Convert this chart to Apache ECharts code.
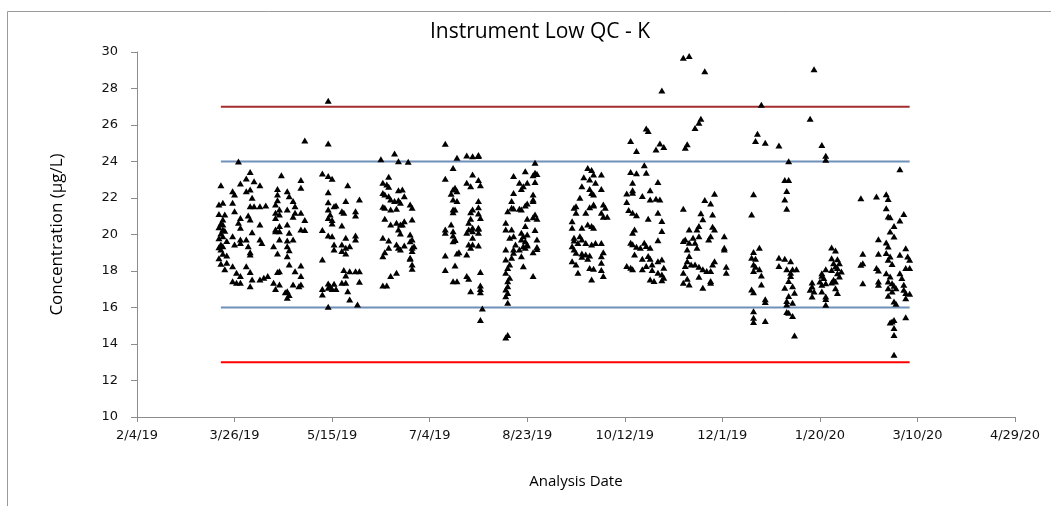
<!DOCTYPE html>
<html>
<head>
<meta charset="utf-8">
<title>Instrument Low QC - K</title>
<script src="https://cdn.jsdelivr.net/npm/echarts@6/dist/echarts.min.js"></script>
<style>
  html, body { margin: 0; padding: 0; background: #ffffff; }
  #chart { width: 1051px; height: 506px; }
</style>
</head>
<body>
<div id="chart"></div>
<script>
// QC results, one entry per analysis date: [date, [concentrations in µg/L]]
const runsMarApr = [
  ['2019-03-18', [21.64, 21.13, 20.4, 19.8, 19.3, 18.7]],
  ['2019-03-19', [22.70, 20.6, 20.05, 19.45, 19.18, 18.4]],
  ['2019-03-20', [21.74, 20.82, 20.55, 20.27, 19.91, 19.36, 18.95]],
  ['2019-03-21', [21.1, 20.2, 18.1]],
  ['2019-03-22', [19.65, 18.85, 18.45]],
  ['2019-03-25', [22.37, 21.74, 19.91, 18.26, 17.44]],
  ['2019-03-26', [22.19, 21.28, 19.45]],
  ['2019-03-27', [17.90, 17.35]],
  ['2019-03-28', [24.0, 20.64]],
  ['2019-03-29', [22.79, 20.91, 20.37, 19.73, 19.54, 17.72, 17.35]],
  ['2019-04-01', [23.07, 22.37, 19.73, 18.26]],
  ['2019-04-02', [21.04, 19.36]],
  ['2019-04-03', [23.42, 22.47, 21.55, 20.82, 19.03, 18.90, 17.94, 17.17]],
  ['2019-04-04', [22.01, 20.13, 17.53]],
  ['2019-04-05', [22.92, 21.55]],
  ['2019-04-08', [22.70, 21.55, 20.55, 19.73, 17.53]],
  ['2019-04-09', [19.54]],
  ['2019-04-10', [17.63]],
  ['2019-04-11', [21.59]],
  ['2019-04-12', [17.72]],
  ['2019-04-15', [19.36, 17.35]],
  ['2019-04-16', [21.64, 21.19, 20.91, 20.27, 20.18, 17.02]],
  ['2019-04-17', [22.50, 22.19, 21.88, 18.96, 17.94]],
  ['2019-04-18', [21.37, 21.10, 20.46, 20.18, 19.73, 17.99, 17.26]],
  ['2019-04-19', [23.25]],
  ['2019-04-21', [16.84]],
  ['2019-04-22', [22.37, 21.37, 20.55, 19.67, 19.36, 18.81, 16.89, 16.53]],
  ['2019-04-23', [22.10, 20.09, 19.14, 18.36, 16.68]],
  ['2019-04-25', [21.83, 20.97, 19.73, 17.26]],
  ['2019-04-26', [21.55, 21.19, 17.99]],
  ['2019-04-28', [17.17]],
  ['2019-04-29', [22.98, 22.56, 21.19, 20.27, 18.30, 17.72, 17.26]],
  ['2019-05-01', [25.15, 20.79, 20.24]]
];

const runsMay = [
  ['2019-05-10', [23.34, 20.24, 18.63, 17.02, 16.71]],
  ['2019-05-13', [27.33, 24.99, 23.20, 22.32, 21.77, 21.37, 20.91, 19.95, 17.32, 17.08, 16.04]],
  ['2019-05-14', [21.10, 17.17]],
  ['2019-05-15', [23.05, 20.79, 20.60, 19.91, 17.02]],
  ['2019-05-16', [21.55, 19.45, 19.18, 17.30]],
  ['2019-05-17', [21.59, 17.02]],
  ['2019-05-20', [21.28, 20.49, 19.45, 19.09, 17.35]],
  ['2019-05-21', [21.19, 18.05]],
  ['2019-05-22', [21.83, 19.82, 19.27, 18.96, 17.75, 17.35]],
  ['2019-05-23', [22.70, 16.89]],
  ['2019-05-24', [19.36, 17.99, 16.44]],
  ['2019-05-27', [21.28, 21.04, 19.95, 19.73, 17.99]],
  ['2019-05-28', [16.16]],
  ['2019-05-29', [21.92, 17.99, 17.41]]
];

const runsJun = [
  ['2019-06-09', [24.13]],
  ['2019-06-10', [22.83, 22.28, 21.52, 19.82, 18.81, 17.21]],
  ['2019-06-11', [22.19, 21.46, 20.86, 19.03]],
  ['2019-06-12', [22.74, 17.21]],
  ['2019-06-13', [23.16, 22.61, 22.10, 19.67, 19.27]],
  ['2019-06-14', [21.92, 21.37, 20.55, 17.72]],
  ['2019-06-16', [24.44, 21.83]],
  ['2019-06-17', [21.41, 20.64, 19.45, 17.90]],
  ['2019-06-18', [24.02, 22.43, 21.88, 20.27, 19.27]],
  ['2019-06-19', [21.74, 20.55, 20.05, 19.18]],
  ['2019-06-20', [22.47, 20.55]],
  ['2019-06-21', [22.10, 20.73, 19.40]],
  ['2019-06-23', [23.98]],
  ['2019-06-24', [21.64, 20.00, 19.63, 18.72, 18.67]],
  ['2019-06-25', [21.46, 20.82, 19.73, 19.27, 19.09, 18.36, 18.12]],
  ['2019-06-26', [19.36]]
];

const runsJul = [
  ['2019-07-12', [24.97, 23.05, 20.27, 20.09, 18.85, 18.05]],
  ['2019-07-15', [22.23, 20.55]],
  ['2019-07-16', [23.65, 22.47, 21.92, 21.37, 21.22, 20.18, 19.95, 19.63, 17.44]],
  ['2019-07-17', [22.56, 21.37, 19.73, 19.70, 18.30]],
  ['2019-07-18', [24.20, 22.37, 21.83, 18.96, 17.44]],
  ['2019-07-19', [19.03]],
  ['2019-07-23', [24.33, 22.83, 20.09, 18.90, 17.72]],
  ['2019-07-24', [20.64, 20.27, 19.45, 17.57]],
  ['2019-07-25', [22.65, 21.22, 20.86, 19.27, 16.89]],
  ['2019-07-26', [24.29, 23.29, 21.37, 20.37, 20.18, 19.82, 19.45]],
  ['2019-07-29', [24.35, 24.30, 22.98, 21.83, 21.50, 21.15, 20.37, 20.31, 20.09, 19.40]],
  ['2019-07-30', [22.70, 20.91, 17.95, 17.21, 17.02, 16.84, 15.31]],
  ['2019-07-31', [15.95]]
];

const runsAug = [
  ['2019-08-12', [20.64, 20.27, 19.18, 18.63, 17.90, 16.99, 16.62, 14.35]],
  ['2019-08-13', [21.28, 18.17, 17.44, 17.17, 16.80, 16.26, 14.50]],
  ['2019-08-14', [19.82, 18.36, 17.63]],
  ['2019-08-15', [21.83, 21.46, 20.27, 18.72]],
  ['2019-08-16', [23.20, 22.28, 21.42, 19.91, 19.18, 19.00]],
  ['2019-08-17', [19.45]],
  ['2019-08-19', [22.83, 21.41, 19.18]],
  ['2019-08-20', [22.50, 21.37, 20.09, 19.73, 18.81]],
  ['2019-08-21', [22.65, 19.91, 19.36, 18.26]],
  ['2019-08-22', [23.47, 21.59, 20.46, 19.63, 19.27]],
  ['2019-08-23', [22.83, 21.70, 20.86, 20.00, 19.45, 19.40]],
  ['2019-08-26', [23.25, 22.19, 21.92, 21.83, 20.95, 19.03, 17.72]],
  ['2019-08-27', [23.93, 23.38, 22.87, 21.10, 20.24]],
  ['2019-08-28', [23.32, 20.86, 19.73, 19.32, 19.21]]
];

const runsSep = [
  ['2019-09-15', [20.73, 20.37, 19.36, 18.54]],
  ['2019-09-16', [21.46, 19.82, 19.67, 19.18]],
  ['2019-09-17', [21.55, 21.19, 19.00, 18.36]],
  ['2019-09-18', [19.54, 17.90]],
  ['2019-09-19', [22.01, 19.91]],
  ['2019-09-20', [22.65, 20.37, 19.73, 18.96, 18.78]],
  ['2019-09-21', [23.14]],
  ['2019-09-22', [21.19, 19.54, 18.90]],
  ['2019-09-23', [23.65, 20.55, 18.67]],
  ['2019-09-24', [23.01, 22.50, 21.50, 18.85, 18.17]],
  ['2019-09-25', [23.53, 22.28, 20.46, 19.45, 17.53]],
  ['2019-09-26', [23.29, 22.19, 21.64, 21.59, 20.37, 18.12]],
  ['2019-09-27', [22.83, 19.54]],
  ['2019-09-30', [23.29, 22.50, 21.19, 19.54, 18.81, 18.45, 18.05]],
  ['2019-10-01', [21.64, 20.97, 19.03, 17.72]],
  ['2019-10-02', [21.46]],
  ['2019-10-03', [20.97]]
];

const runsOct = [
  ['2019-10-13', [22.25, 21.78, 18.27]],
  ['2019-10-14', [21.34]],
  ['2019-10-15', [25.12, 23.42, 19.55, 18.18]],
  ['2019-10-16', [22.84, 22.43, 22.29, 21.19, 20.10, 19.46, 18.09]],
  ['2019-10-17', [20.28, 18.91]],
  ['2019-10-18', [24.57, 23.35, 21.06, 19.33]],
  ['2019-10-20', [19.27]],
  ['2019-10-21', [22.11, 18.67, 18.09]],
  ['2019-10-22', [23.79, 19.55]],
  ['2019-10-23', [25.81, 23.38, 19.37, 18.27]],
  ['2019-10-24', [25.67, 20.86, 18.82]],
  ['2019-10-25', [22.42, 21.92, 19.27, 18.67, 17.54]],
  ['2019-10-26', [18.36, 18.05]],
  ['2019-10-27', [17.45]],
  ['2019-10-28', [24.66, 21.96]],
  ['2019-10-29', [22.87, 21.19, 19.69, 18.54, 17.90]],
  ['2019-10-30', [24.99, 21.92]],
  ['2019-10-31', [27.89, 20.74, 20.19, 18.63, 17.81, 17.50]],
  ['2019-11-01', [24.79, 18.18, 17.63]]
];

const runsNov = [
  ['2019-11-11', [29.68, 21.41, 19.64, 17.90, 17.36]],
  ['2019-11-12', [24.75, 19.73, 18.27]],
  ['2019-11-13', [24.94, 19.18, 18.54, 17.58]],
  ['2019-11-14', [29.78, 20.28, 19.55, 18.82, 17.26]],
  ['2019-11-15', [18.36]],
  ['2019-11-16', [19.82]],
  ['2019-11-17', [25.83, 19.55, 18.36]],
  ['2019-11-18', [20.28, 19.27]],
  ['2019-11-19', [26.12, 20.46, 19.91, 18.23, 17.68]],
  ['2019-11-20', [26.34, 21.16]],
  ['2019-11-21', [20.83, 18.09, 17.08]],
  ['2019-11-22', [28.95, 21.89]],
  ['2019-11-23', [18.00]],
  ['2019-11-24', [19.73]],
  ['2019-11-25', [21.70, 19.91, 18.00, 17.45, 17.36]],
  ['2019-11-26', [21.10, 20.42, 18.36]],
  ['2019-11-27', [22.23, 20.28, 18.54]],
  ['2019-12-02', [19.91, 19.27, 19.18]],
  ['2019-12-03', [18.23, 17.90]]
];

const runsDec = [
  ['2019-12-16', [21.10, 18.73, 16.99]],
  ['2019-12-17', [22.20, 19.04, 18.36, 18.00, 16.84, 15.80, 15.44, 15.20]],
  ['2019-12-18', [25.12, 18.67, 18.23]],
  ['2019-12-19', [25.52]],
  ['2019-12-20', [19.27, 18.09]],
  ['2019-12-21', [27.11, 17.76, 17.26]],
  ['2019-12-23', [25.03, 16.45, 16.30, 15.26]],
  ['2019-12-30', [24.88, 18.73, 18.27]],
  ['2020-01-02', [22.98, 21.92, 18.67, 17.08]],
  ['2020-01-03', [22.38, 21.41, 18.09, 16.35, 16.17, 15.75]],
  ['2020-01-04', [24.02, 22.98, 17.45, 16.63, 15.71]],
  ['2020-01-05', [18.54, 17.90, 17.72]],
  ['2020-01-06', [18.09, 17.17, 16.26, 15.53]],
  ['2020-01-07', [16.81, 14.47]],
  ['2020-01-08', [18.09]]
];

const runsJan = [
  ['2020-01-15', [26.34, 16.97]],
  ['2020-01-16', [17.37, 17.15, 16.60]],
  ['2020-01-17', [29.05, 16.88]],
  ['2020-01-20', [17.42]],
  ['2020-01-21', [24.91, 17.88, 17.74, 17.24, 16.88]],
  ['2020-01-22', [17.61]],
  ['2020-01-23', [24.31, 24.09, 18.10, 17.33, 16.60, 16.46, 16.15]],
  ['2020-01-26', [19.29, 18.70, 18.06, 17.37]],
  ['2020-01-27', [18.43, 17.52]],
  ['2020-01-28', [19.12, 18.25, 17.42, 17.06]],
  ['2020-01-29', [18.65, 18.16, 17.88, 16.79]],
  ['2020-01-30', [18.43, 17.70]],
  ['2020-01-31', [17.97]]
];

const runsFebMar = [
  ['2020-02-10', [21.99, 18.34]],
  ['2020-02-11', [18.94, 18.43, 17.33]],
  ['2020-02-18', [22.08, 18.16]],
  ['2020-02-19', [19.74, 18.94, 18.03, 17.42, 17.24]],
  ['2020-02-23', [22.21, 21.44, 19.56, 18.98, 17.88]],
  ['2020-02-24', [21.94, 20.99, 19.34, 18.61, 17.42, 17.06, 16.64]],
  ['2020-02-25', [20.95, 20.16, 18.79, 17.70, 15.18]],
  ['2020-02-26', [18.39, 17.33, 16.88, 15.23]],
  ['2020-02-27', [20.47, 19.89, 17.19, 16.33, 15.32, 14.87, 14.50, 13.41]],
  ['2020-02-28', [17.06, 16.20]],
  ['2020-03-01', [23.58, 20.77, 18.89, 17.88]],
  ['2020-03-02', [17.61]],
  ['2020-03-03', [21.13, 17.24, 16.97]],
  ['2020-03-04', [19.25, 18.16, 16.79, 16.51, 15.47]],
  ['2020-03-05', [18.79]],
  ['2020-03-06', [18.61, 18.16, 16.75]]
];

// Control limits (µg/L) and the date span they are drawn over
const limitValues = [27, 24, 16, 13];
const limitSpan = ['2019-03-19', '2020-03-06'];

// Axis range: dates as spreadsheet serial days, ticks every 50 days
const dateAxisStart = '2019-02-04';
const dateAxisEnd = '2020-04-29';
const dateTickDays = 50;
const concTicks = { min: 10, max: 30, step: 2 };

const DAY_MS = 86400000;
const SERIAL_EPOCH = 25569; // serial day of 1970-01-01

function toSerial(iso) {
  const [y, m, d] = iso.split('-').map(Number);
  return Date.UTC(y, m - 1, d) / DAY_MS + SERIAL_EPOCH;
}

function serialLabel(v) {
  const dt = new Date((v - SERIAL_EPOCH) * DAY_MS);
  return (dt.getUTCMonth() + 1) + '/' + dt.getUTCDate() + '/' + String(dt.getUTCFullYear()).slice(2);
}

const allRuns = [].concat(runsMarApr, runsMay, runsJun, runsJul, runsAug, runsSep,
  runsOct, runsNov, runsDec, runsJan, runsFebMar);

const points = [];
allRuns.forEach(([date, values]) => {
  const x = toSerial(date);
  values.forEach(v => points.push([x, v]));
});

const limitColors = ['#a32c2c', '#6f90b8', '#6f90b8', '#ff0000'];

const limitSeries = limitValues.map((v, i) => ({
  type: 'line',
  data: [[toSerial(limitSpan[0]), v], [toSerial(limitSpan[1]), v]],
  symbol: 'none',
  silent: true,
  animation: false,
  z: 1,
  lineStyle: { color: limitColors[i], width: 2 }
}));

const axisGrey = '#8c8c8c';
const tickFont = { fontFamily: 'DejaVu Sans', fontSize: 13, color: '#111111' };

const chart = echarts.init(document.getElementById('chart'), null, { renderer: 'canvas' });

chart.setOption({
  animation: false,
  backgroundColor: '#ffffff',
  title: {
    text: 'Instrument Low QC - K',
    left: 535,
    top: 17,
    textAlign: 'center',
    textStyle: { fontFamily: 'Open Sans', fontSize: 21, fontWeight: 'normal', color: '#000000' }
  },
  graphic: [{
    type: 'polyline',
    silent: true,
    shape: { points: [[7.5, 506], [7.5, 11.5], [1051, 11.5]] },
    style: { stroke: '#9a9a9a', lineWidth: 1, fill: null }
  }],
  grid: { left: 137, right: 36, top: 52, bottom: 89, outerBoundsMode: 'none' },
  xAxis: {
    type: 'value',
    min: toSerial(dateAxisStart),
    max: toSerial(dateAxisEnd),
    interval: dateTickDays,
    name: 'Analysis Date',
    nameLocation: 'middle',
    nameGap: 57,
    nameTextStyle: { fontFamily: 'Open Sans', fontSize: 15, color: '#000000' },
    axisLine: { lineStyle: { color: axisGrey, width: 1 } },
    axisTick: { show: true, length: 5, lineStyle: { color: axisGrey } },
    axisLabel: Object.assign({ margin: 12, formatter: serialLabel }, tickFont),
    splitLine: { show: false }
  },
  yAxis: {
    type: 'value',
    min: concTicks.min,
    max: concTicks.max,
    interval: concTicks.step,
    name: 'Concentration (µg/L)',
    nameLocation: 'middle',
    nameGap: 71,
    nameTextStyle: { fontFamily: 'Open Sans', fontSize: 17, color: '#000000' },
    axisLine: { show: true, lineStyle: { color: axisGrey, width: 1 } },
    axisTick: { show: true, length: 6, lineStyle: { color: axisGrey } },
    axisLabel: Object.assign({ margin: 19 }, tickFont),
    splitLine: { show: false }
  },
  series: limitSeries.concat([{
    type: 'scatter',
    data: points,
    symbol: 'triangle',
    symbolSize: [7, 6],
    z: 3,
    itemStyle: { color: '#000000', opacity: 1 }
  }])
});
</script>
</body>
</html>
